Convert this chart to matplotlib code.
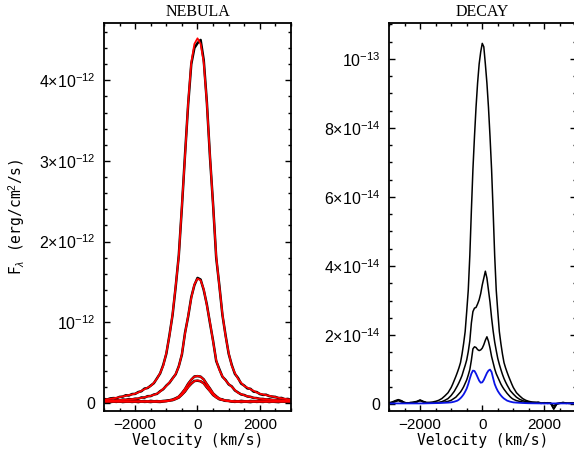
import numpy as np
import matplotlib
matplotlib.use('Agg')
import matplotlib.pyplot as plt
from matplotlib.ticker import MultipleLocator

plt.rcParams['font.family'] = ['Liberation Sans', 'DejaVu Sans']
plt.rcParams['mathtext.fontset'] = 'custom'
plt.rcParams['mathtext.rm'] = 'Liberation Sans'
plt.rcParams['mathtext.it'] = 'Liberation Sans:italic'
plt.rcParams['mathtext.bf'] = 'Liberation Sans:bold'

# ---------------- data ----------------
# Left panel (NEBULA): velocity grid in km/s, flux in units of 1e-12 erg/cm2/s
UNIT_L = 1e-12
v_left = np.arange(-3000, 3001, 100)

nebula_A_obs = [0.050, 0.042, 0.056, 0.060, 0.058, 0.075, 0.078, 0.095, 0.092, 0.110,
                0.112, 0.135, 0.145, 0.178, 0.185, 0.215, 0.245, 0.305, 0.365, 0.470,
                0.610, 0.840, 1.090, 1.440, 1.830, 2.430, 3.080, 3.700, 4.200, 4.400,
                4.460,
                4.500, 4.250, 3.730, 3.050, 2.460, 1.800, 1.460, 1.090, 0.840, 0.610,
                0.470, 0.360, 0.310, 0.240, 0.215, 0.180, 0.175, 0.140, 0.135, 0.110,
                0.100, 0.102, 0.085, 0.078, 0.075, 0.060, 0.062, 0.046, 0.050, 0.038]
nebula_A_fit = [0.040, 0.045, 0.051, 0.057, 0.064, 0.072, 0.080, 0.089, 0.097, 0.105,
                0.115, 0.130, 0.150, 0.170, 0.190, 0.210, 0.250, 0.300, 0.370, 0.460,
                0.620, 0.830, 1.100, 1.450, 1.820, 2.450, 3.060, 3.720, 4.220, 4.450,
                4.520,
                4.450, 4.220, 3.720, 3.060, 2.450, 1.820, 1.450, 1.100, 0.830, 0.620,
                0.460, 0.370, 0.300, 0.250, 0.210, 0.190, 0.170, 0.150, 0.130, 0.115,
                0.105, 0.097, 0.089, 0.080, 0.072, 0.064, 0.057, 0.051, 0.045, 0.040]
nebula_B_obs = [0.030, 0.022, 0.032, 0.028, 0.036, 0.031, 0.042, 0.038, 0.048, 0.044,
                0.053, 0.052, 0.068, 0.066, 0.084, 0.085, 0.104, 0.112, 0.145, 0.170,
                0.215, 0.250, 0.305, 0.355, 0.455, 0.600, 0.870, 1.070, 1.310, 1.460,
                1.550,
                1.530, 1.400, 1.220, 0.990, 0.770, 0.520, 0.420, 0.325, 0.285, 0.230,
                0.205, 0.155, 0.130, 0.105, 0.098, 0.080, 0.076, 0.062, 0.060, 0.050,
                0.050, 0.042, 0.045, 0.036, 0.038, 0.030, 0.033, 0.026, 0.029, 0.022]
nebula_B_fit = [0.025, 0.027, 0.029, 0.031, 0.033, 0.035, 0.038, 0.041, 0.044, 0.047,
                0.050, 0.056, 0.063, 0.070, 0.080, 0.088, 0.100, 0.115, 0.140, 0.175,
                0.210, 0.255, 0.300, 0.360, 0.450, 0.610, 0.860, 1.080, 1.300, 1.470,
                1.540,
                1.520, 1.410, 1.210, 1.000, 0.760, 0.530, 0.410, 0.330, 0.280, 0.235,
                0.200, 0.160, 0.125, 0.110, 0.095, 0.083, 0.073, 0.065, 0.058, 0.052,
                0.048, 0.045, 0.042, 0.039, 0.036, 0.033, 0.031, 0.029, 0.027, 0.025]
nebula_C_obs = [0.026, 0.018, 0.024, 0.020, 0.028, 0.016, 0.022, 0.025, 0.019, 0.023,
                0.027, 0.018, 0.021, 0.024, 0.017, 0.026, 0.020, 0.023, 0.019, 0.025,
                0.028, 0.033, 0.042, 0.058, 0.078, 0.122, 0.172, 0.238, 0.288, 0.328,
                0.332,
                0.326, 0.292, 0.232, 0.178, 0.118, 0.083, 0.052, 0.043, 0.028, 0.027,
                0.020, 0.024, 0.018, 0.026, 0.021, 0.017, 0.025, 0.022, 0.019, 0.024,
                0.021, 0.026, 0.018, 0.023, 0.020, 0.025, 0.017, 0.022, 0.024, 0.019]
nebula_C_fit = [0.022, 0.022, 0.022, 0.022, 0.022, 0.022, 0.022, 0.022, 0.022, 0.022,
                0.022, 0.022, 0.022, 0.022, 0.022, 0.022, 0.022, 0.022, 0.022, 0.024,
                0.027, 0.032, 0.041, 0.056, 0.080, 0.120, 0.175, 0.235, 0.290, 0.325,
                0.335,
                0.325, 0.290, 0.235, 0.175, 0.120, 0.080, 0.056, 0.041, 0.032, 0.027,
                0.024, 0.022, 0.022, 0.022, 0.022, 0.022, 0.022, 0.022, 0.022, 0.022,
                0.022, 0.022, 0.022, 0.022, 0.022, 0.022, 0.022, 0.022, 0.022, 0.022]
nebula_D_obs = [0.012, 0.018, 0.010, 0.016, 0.013, 0.019, 0.011, 0.015, 0.017, 0.012,
                0.016, 0.010, 0.018, 0.013, 0.015, 0.011, 0.017, 0.014, 0.012, 0.018,
                0.022, 0.030, 0.034, 0.049, 0.066, 0.102, 0.142, 0.197, 0.238, 0.272,
                0.276,
                0.268, 0.243, 0.192, 0.148, 0.098, 0.070, 0.045, 0.037, 0.026, 0.025,
                0.017, 0.013, 0.018, 0.011, 0.016, 0.014, 0.010, 0.017, 0.013, 0.015,
                0.012, 0.018, 0.011, 0.016, 0.013, 0.010, 0.017, 0.014, 0.012, 0.015]
nebula_D_fit = [0.014, 0.014, 0.014, 0.014, 0.014, 0.014, 0.014, 0.014, 0.014, 0.014,
                0.014, 0.014, 0.014, 0.014, 0.014, 0.014, 0.014, 0.014, 0.014, 0.016,
                0.020, 0.027, 0.035, 0.047, 0.068, 0.100, 0.145, 0.195, 0.240, 0.270,
                0.278,
                0.270, 0.240, 0.195, 0.145, 0.100, 0.068, 0.047, 0.035, 0.027, 0.020,
                0.016, 0.014, 0.014, 0.014, 0.014, 0.014, 0.014, 0.014, 0.014, 0.014,
                0.014, 0.014, 0.014, 0.014, 0.014, 0.014, 0.014, 0.014, 0.014, 0.014]

# Right panel (DECAY): flux in units of 1e-14 erg/cm2/s
UNIT_R = 1e-14
v_right = np.concatenate([np.arange(-3000, -1000, 100),
                          np.arange(-1000, 1001, 50),
                          np.arange(1100, 3001, 100)])

decay_E = [0.03, 0.05, 0.08, 0.12, 0.10, 0.04, 0.03, 0.05, 0.04, 0.06,
           0.11, 0.07, 0.04, 0.05, 0.06, 0.08, 0.11, 0.16, 0.24, 0.33,
           0.48, 0.58, 0.69, 0.80, 0.92, 1.05, 1.20, 1.45, 1.75, 2.10,
           2.68, 3.30, 4.30, 5.60, 6.80, 7.75, 8.60, 9.30, 9.85, 10.20,
           10.45,
           10.35, 9.85, 9.30, 8.60, 7.75, 6.80, 5.60, 4.30, 3.30, 2.68,
           2.10, 1.75, 1.45, 1.20, 1.05, 0.92, 0.80, 0.69, 0.58, 0.48,
           0.33, 0.24, 0.16, 0.11, 0.08, 0.06, 0.05, 0.04, 0.03, 0.04,
           0.02, 0.03, -0.05, 0.02, 0.03, 0.04, 0.02, 0.03, 0.04, 0.03]
decay_F = [0.04, 0.06, 0.10, 0.13, 0.09, 0.05, 0.03, 0.04, 0.06, 0.08,
           0.12, 0.08, 0.05, 0.04, 0.04, 0.05, 0.05, 0.07, 0.11, 0.16,
           0.25, 0.31, 0.37, 0.45, 0.53, 0.62, 0.72, 0.83, 0.98, 1.12,
           1.28, 1.52, 1.83, 2.35, 2.68, 2.78, 2.80, 2.90, 3.02, 3.20,
           3.45,
           3.65, 3.85, 3.65, 3.30, 2.95, 2.50, 2.12, 1.80, 1.55, 1.32,
           1.15, 1.00, 0.86, 0.74, 0.64, 0.55, 0.47, 0.39, 0.34, 0.29,
           0.20, 0.14, 0.10, 0.075, 0.06, 0.05, 0.04, 0.06, 0.03, 0.02,
           0.04, 0.03, -0.12, 0.01, 0.03, 0.05, 0.03, 0.02, 0.03, 0.04]
decay_G = [0.02, 0.04, 0.07, 0.10, 0.06, 0.03, 0.04, 0.03, 0.05, 0.07,
           0.10, 0.06, 0.04, 0.03, 0.03, 0.04, 0.04, 0.05, 0.06, 0.08,
           0.11, 0.14, 0.17, 0.20, 0.25, 0.30, 0.35, 0.42, 0.50, 0.60,
           0.70, 0.84, 1.00, 1.27, 1.60, 1.66, 1.64, 1.58, 1.55, 1.57,
           1.62,
           1.72, 1.85, 1.95, 1.82, 1.62, 1.38, 1.20, 1.02, 0.88, 0.78,
           0.68, 0.58, 0.50, 0.43, 0.37, 0.31, 0.26, 0.21, 0.17, 0.14,
           0.10, 0.08, 0.06, 0.05, 0.04, 0.04, 0.05, 0.03, 0.02, 0.04,
           0.03, 0.02, -0.15, 0.00, 0.02, 0.04, 0.03, 0.02, 0.03, 0.03]
decay_H = [0.020, 0.020, 0.020, 0.020, 0.020, 0.020, 0.020, 0.020, 0.020, 0.020,
           0.020, 0.020, 0.022, 0.024, 0.026, 0.028, 0.030, 0.034, 0.038, 0.043,
           0.05, 0.06, 0.07, 0.085, 0.10, 0.13, 0.17, 0.22, 0.28, 0.36,
           0.45, 0.58, 0.74, 0.88, 0.97, 0.96, 0.88, 0.78, 0.68, 0.62,
           0.63,
           0.70, 0.80, 0.90, 0.97, 1.00, 0.93, 0.75, 0.58, 0.47, 0.38,
           0.31, 0.25, 0.20, 0.16, 0.13, 0.10, 0.085, 0.07, 0.06, 0.05,
           0.043, 0.037, 0.032, 0.028, 0.025, 0.023, 0.022, 0.021, 0.020, 0.020,
           0.020, 0.020, 0.020, 0.020, 0.020, 0.020, 0.020, 0.020, 0.020, 0.020]

left_yticks = [0, 1e-12, 2e-12, 3e-12, 4e-12]
left_yticklabels = ['0', r'$10^{-12}$', r'$2{\times}10^{-12}$', r'$3{\times}10^{-12}$',
                    r'$4{\times}10^{-12}$']
right_yticks = [0, 2e-14, 4e-14, 6e-14, 8e-14, 1e-13]
right_yticklabels = ['0', r'$2{\times}10^{-14}$', r'$4{\times}10^{-14}$', r'$6{\times}10^{-14}$',
                     r'$8{\times}10^{-14}$', r'$10^{-13}$']
xticks = [-2000, 0, 2000]
xticklabels = ['\u22122000', '0', '2000']

# ---------------- figure ----------------
W, H = 574, 455
fig = plt.figure(figsize=(W / 100, H / 100), dpi=100)
axL = fig.add_axes([104 / W, 44 / H, 187 / W, 388 / H])
axR = fig.add_axes([389 / W, 44 / H, 186.5 / W, 388 / H])

MONO = 'DejaVu Sans Mono'
SERIF = 'Liberation Serif'


def style(ax, yt, ytl, ymin, ymax, yminor, title):
    ax.set_xlim(-3000, 3000)
    ax.set_ylim(ymin, ymax)
    ax.set_xticks(xticks)
    ax.set_xticklabels(xticklabels)
    ax.set_yticks(yt)
    ax.set_yticklabels(ytl)
    ax.xaxis.set_minor_locator(MultipleLocator(500))
    ax.yaxis.set_minor_locator(MultipleLocator(yminor))
    ax.tick_params(which='both', direction='in', top=True, right=True, width=1.0,
                   labelsize=11, colors='black')
    ax.tick_params(axis='y', labelsize=11.5)
    ax.tick_params(which='major', length=4.4)
    ax.tick_params(which='minor', length=2.2)
    ax.tick_params(axis='y', pad=6)
    ax.tick_params(axis='x', pad=5)
    for s in ax.spines.values():
        s.set_linewidth(1.3)
    ax.set_title(title, fontfamily=SERIF, fontsize=11.5, pad=5)
    ax.set_xlabel('Velocity (km/s)', fontfamily=MONO, fontsize=10.5, labelpad=1)


# left panel: observed spectra (black) under model fits (red)
for obs in (nebula_A_obs, nebula_B_obs, nebula_C_obs, nebula_D_obs):
    axL.plot(v_left, np.array(obs) * UNIT_L, color='black', lw=1.8)
for fit in (nebula_A_fit, nebula_B_fit, nebula_C_fit, nebula_D_fit):
    axL.plot(v_left, np.array(fit) * UNIT_L, color='#ff0000', lw=1.3)
style(axL, left_yticks, left_yticklabels, -0.1e-12, 4.71e-12, 0.2e-12, 'NEBULA')

# right panel
for s in (decay_E, decay_F, decay_G):
    axR.plot(v_right, np.array(s) * UNIT_R, color='black', lw=1.1)
axR.plot(v_right, np.array(decay_H) * UNIT_R, color='#0a14e6', lw=1.3)
style(axR, right_yticks, right_yticklabels, -0.2e-14, 11.04e-14, 0.5e-14, 'DECAY')

fig.text(17 / W, 1 - 217 / H, r'F$_{\lambda}$ (erg/cm$^{2}$/s)', rotation=90,
         ha='center', va='center', fontfamily=MONO, fontsize=10.5)

fig.savefig('out.png', dpi=100)
